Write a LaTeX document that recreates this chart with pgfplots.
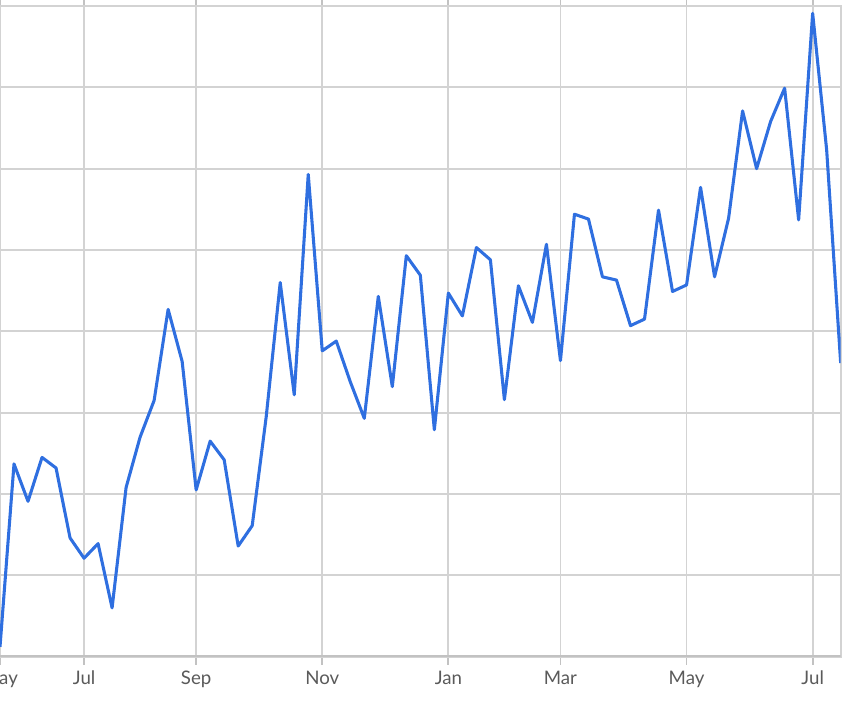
\documentclass[border=0pt]{standalone}
\usepackage{fontspec}
\setmainfont{Lato}
\usepackage{pgfplots}
\pgfplotsset{compat=1.18}
\definecolor{lineblue}{HTML}{2F6FE0}
\definecolor{gridgray}{HTML}{D3D3D3}
\definecolor{axisgray}{HTML}{C2C2C2}
\definecolor{labelgray}{HTML}{5A5A5A}
\begin{document}
\begin{tikzpicture}
\begin{axis}[
  scale only axis,
  width=630.5pt, height=488pt,
  xmin=0, xmax=60, ymin=0, ymax=8,
  xtick={0,6,14,23,32,40,49,58},
  xticklabels={May,Jul,Sep,Nov,Jan,Mar,May,Jul},
  ytick={0,1,2,3,4,5,6,7,8},
  yticklabels={},
  grid=major,
  major grid style={gridgray, line width=1.4pt},
  axis line style={gridgray, line width=1.4pt},
  tick align=outside,
  major tick length=6pt,
  xtick style={axisgray, line width=1.4pt},
  ytick style={draw=none},
  x tick label style={font=\fontsize{14}{16}\selectfont, text=labelgray, yshift=-1pt},
]
\addplot[lineblue, line width=2.3pt, line join=round, mark=none] coordinates {
(0,0.12) (1,2.37) (2,1.91) (3,2.45) (4,2.32) (5,1.46) (6,1.21) (7,1.39) (8,0.60) (9,2.08)
(10,2.70) (11,3.15) (12,4.27) (13,3.63) (14,2.05) (15,2.65) (16,2.42) (17,1.36) (18,1.61) (19,2.95)
(20,4.60) (21,3.22) (22,5.93) (23,3.76) (24,3.88) (25,3.38) (26,2.93) (27,4.43) (28,3.32) (29,4.93)
(30,4.69) (31,2.79) (32,4.47) (33,4.19) (34,5.03) (35,4.88) (36,3.16) (37,4.56) (38,4.11) (39,5.07)
(40,3.64) (41,5.44) (42,5.38) (43,4.67) (44,4.63) (45,4.07) (46,4.15) (47,5.49) (48,4.49) (49,4.57)
(50,5.77) (51,4.67) (52,5.39) (53,6.71) (54,6.00) (55,6.58) (56,6.99) (57,5.37) (58,7.91) (59,6.23)
(60,3.61)
};
\draw[axisgray, line width=2pt] (rel axis cs:0,0) -- (rel axis cs:1,0);
\coordinate (bl) at (rel axis cs:0,0);
\coordinate (tr) at (rel axis cs:1,1);
\end{axis}
\pgfresetboundingbox
\path[use as bounding box] ([yshift=-35.5pt]bl) rectangle ([xshift=16pt,yshift=4.5pt]tr);
\end{tikzpicture}
\end{document}
